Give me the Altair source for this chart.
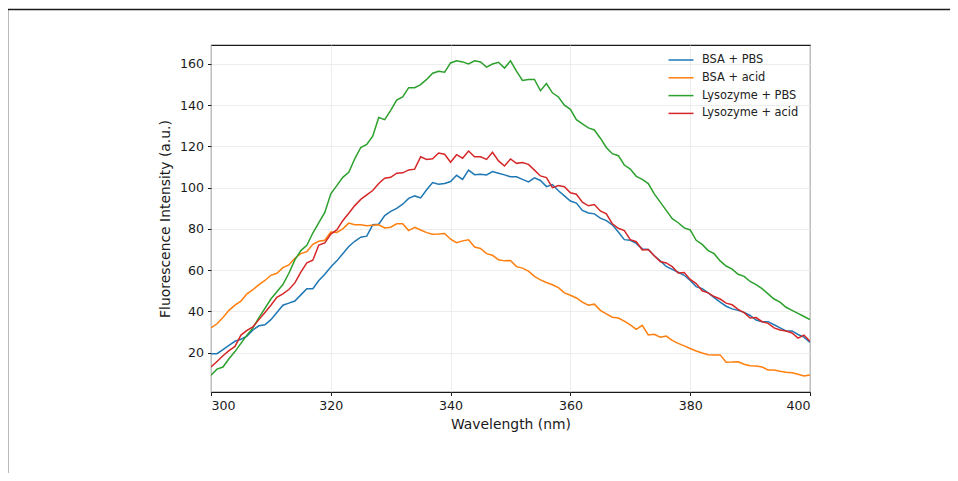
import altair as alt
import pandas as pd

wavelengths = list(range(300, 401))

bsa_pbs = [19.5, 19.5, 21.5, 23.5, 25.5, 26.5, 28, 31, 33, 33.5,
           36, 39.5, 43, 44, 45, 48, 51, 51, 55, 58,
           61.5, 64.5, 68, 71.5, 74, 76, 76.5, 82, 82.3, 86.5,
           88.5, 90, 92, 94.8, 96, 95, 99, 102.5, 101.7, 102,
           103, 106, 104, 108.5, 106.3, 106.5, 106.2, 107.8, 107, 106.2,
           105.3, 105.3, 104, 102.8, 104.8, 103.5, 100.5, 101.5, 98.5, 96,
           93.5, 92.5, 89, 87.7, 87.3, 85.2, 84, 82, 78.5, 74.8,
           74.5, 73, 70.3, 70, 67, 64.5, 61.8, 60.4, 59, 57.5,
           55, 52, 51, 49, 46.7, 44.5, 42.5, 41.2, 40.5, 39.5,
           38, 35.8, 35, 35, 33.5, 32, 30.5, 30.5, 28.8, 27.5, 25]

bsa_acid = [32, 34, 37, 40.5, 43, 45, 48.5, 50.5, 53, 55,
            57.5, 58.5, 61.2, 62.5, 65.8, 68, 69, 72.5, 74, 74.5,
            78.5, 78.3, 80, 82.8, 82, 82, 81.5, 81.8, 82, 80.5,
            80.8, 82.5, 82.5, 79.2, 80.8, 79.5, 78.2, 77.4, 77.5, 77.8,
            75, 73.3, 74.2, 74.7, 71.2, 70.5, 68, 67.2, 65, 64.5,
            64.7, 61.7, 61, 59.5, 57, 55.3, 54, 52.9, 51.5, 49,
            47.8, 46.5, 44.5, 43, 43.5, 40.5, 38.8, 37.2, 36.8, 35.3,
            33.4, 31.3, 33.2, 28.6, 28.9, 27.5, 28, 25.9, 24.5, 23.3,
            22, 20.8, 19.8, 19, 18.9, 18.9, 15.3, 15.4, 15.6, 14.4,
            13.6, 13.5, 13, 11.6, 11.6, 11, 10.5, 10.2, 9.5, 8.7, 9.2]

lys_pbs = [9, 12, 13, 17, 20.5, 24.5, 28.5, 32, 37, 41.5,
           46, 49.5, 53, 58.5, 65, 69.5, 72, 78, 83, 88,
           97, 101, 105, 107.5, 114, 119.5, 121, 125, 134, 133,
           137.5, 142.5, 144, 148.5, 148.5, 150, 152.5, 155.5, 156.5, 156,
           160.5, 161.5, 161, 160, 161.5, 161, 158.5, 160, 160.8, 158,
           161.5, 156.5, 152, 152.5, 152.5, 147, 150.5, 146, 144, 140,
           138, 133, 131, 129, 128, 124, 119.5, 116.5, 115.5, 111,
           109, 105.5, 104, 102, 97, 93, 89, 85, 83, 80.5,
           79.5, 74.5, 72.5, 69.5, 68, 64.5, 62, 60.5, 58, 57,
           54.5, 53, 51, 48.5, 46, 44.5, 42, 40.5, 39, 37.5, 36]

lys_acid = [13, 15.7, 18.5, 21, 23, 28.5, 30.8, 32.5, 36, 39.5,
            43, 46.8, 48.5, 50.6, 53.8, 59, 63.5, 64.8, 72.2, 73.2,
            77.5, 79.5, 84, 87.6, 91.3, 94.3, 96.5, 98.6, 102, 104.6,
            105, 107, 107.2, 108.6, 109, 115, 113.7, 114, 116.8, 116.2,
            112.3, 116, 114.3, 117.8, 115, 115, 113.7, 117.2, 113, 110.5,
            113.9, 111.8, 112.2, 111.3, 108.5, 105.7, 104.9, 100, 101, 100.5,
            97.5, 96.8, 93, 91.2, 91.8, 88.7, 87.3, 82.5, 80.3, 79.2,
            74.8, 73.8, 69.8, 70, 67, 64.2, 63.5, 61.7, 58.6, 58.8,
            55.5, 53.5, 50, 49, 47.2, 46, 44, 43.2, 41, 39.4,
            36.8, 37, 35, 34.2, 32, 31, 30.5, 29.5, 27, 28.5, 25.5]

series_names = ["BSA + PBS", "BSA + acid", "Lysozyme + PBS", "Lysozyme + acid"]
series_colors = ["#1f77b4", "#ff7f0e", "#2ca02c", "#d62728"]
x_ticks = [300, 320, 340, 360, 380, 400]
y_ticks = [20, 40, 60, 80, 100, 120, 140, 160]

rows = []
for idx, (name, vals) in enumerate(zip(series_names, [bsa_pbs, bsa_acid, lys_pbs, lys_acid])):
    for w, v in zip(wavelengths, vals):
        rows.append({"Wavelength": w, "Intensity": v, "Series": name, "k": idx})
df = pd.DataFrame(rows)

FONT = "DejaVu Sans"

lines = alt.Chart(df).mark_line(strokeWidth=1.5, clip=True).encode(
    x=alt.X("Wavelength:Q",
            scale=alt.Scale(domain=[300, 400], nice=False, zero=False),
            axis=alt.Axis(values=x_ticks, title="Wavelength (nm)", format="d")),
    y=alt.Y("Intensity:Q",
            scale=alt.Scale(domain=[0.9, 169.2], nice=False, zero=False),
            axis=alt.Axis(values=y_ticks, title="Fluorescence Intensity (a.u.)", format="d")),
    color=alt.Color("Series:N",
                    scale=alt.Scale(domain=series_names, range=series_colors),
                    sort=series_names,
                    legend=alt.Legend(title=None, orient="none", legendX=464, legendY=9,
                                      symbolType="M-2.5,0H2.5", symbolSize=100,
                                      symbolStrokeWidth=1.5, labelFont=FONT,
                                      labelFontSize=11.4, labelColor="#222",
                                      labelOffset=15, rowPadding=5.8, padding=0)),
    detail="k:N",
)

frame_src = pd.DataFrame({"a": [0]})
frame_left = alt.Chart(frame_src).mark_rule(color="#1a1a1a", strokeWidth=1.6).encode(
    x=alt.value(-203.5), y=alt.value(-35.5), y2=alt.value(520))
frame_top = alt.Chart(frame_src).mark_rule(color="#1a1a1a", strokeWidth=1.6).encode(
    x=alt.value(-204), x2=alt.value(900), y=alt.value(-35.5))

chart = alt.layer(lines, frame_left, frame_top).properties(
    width=599, height=347,
    autosize="none",
    padding={"left": 203, "top": 37, "right": 140, "bottom": 81},
).configure_view(
    stroke="#1a1a1a", strokeWidth=1.1
).configure_axis(
    domain=False,
    grid=True, gridColor="#e8e8e8", gridWidth=0.8,
    ticks=True, tickSize=3.5, tickColor="#1a1a1a", tickWidth=1,
    labelFont=FONT, labelFontSize=12.6, labelColor="#1a1a1a", labelPadding=4,
    titleFont=FONT, titleFontSize=13.9, titleFontWeight="normal", titleColor="#1a1a1a",
).configure_axisX(
    titlePadding=5
).configure_axisY(
    titlePadding=7
)

chart.save("out.html", embed_options={"renderer": "svg", "actions": False})
